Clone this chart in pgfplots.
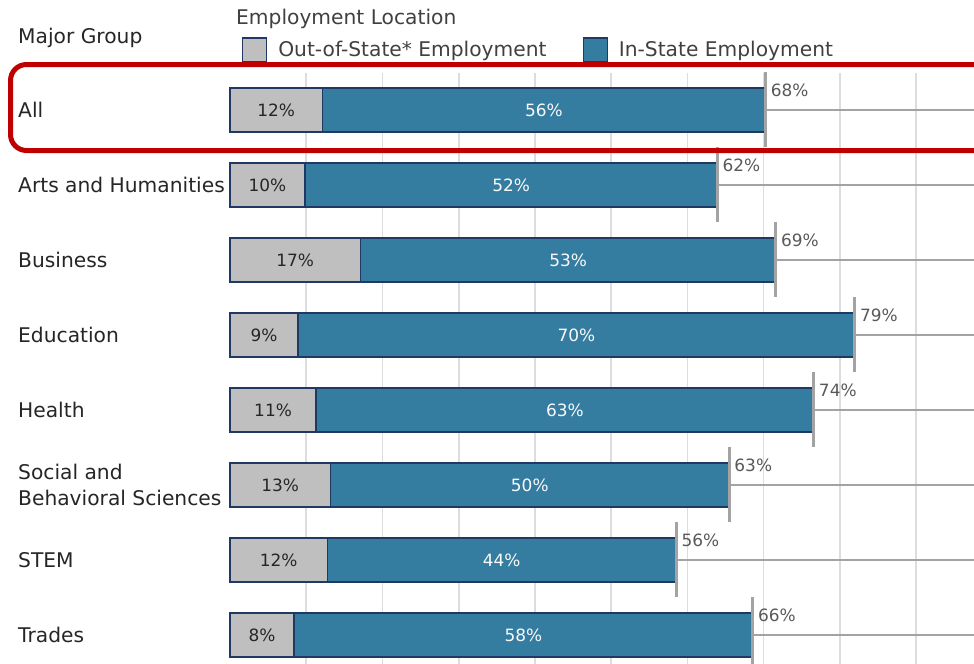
\documentclass[border=0pt]{standalone}
\usepackage{pgfplots}
\pgfplotsset{compat=1.18}
\usepackage{pgfplotstable}
\usepackage{fontspec}
\setmainfont{DejaVu Sans}
\definecolor{oosgray}{HTML}{BFBFBF}
\definecolor{instblue}{HTML}{347DA1}
\definecolor{navy}{HTML}{1F3864}
\definecolor{gridgray}{HTML}{DDDDDD}
\definecolor{totgray}{HTML}{A3A3A3}
\definecolor{labtext}{HTML}{262626}
\definecolor{legtext}{HTML}{404040}
\definecolor{tottext}{HTML}{595959}
\definecolor{hired}{HTML}{C00000}

\pgfplotstableread{
row out in total outlab inlab totlab
0 11.7 56.1 67.8 12 56 68
1 9.5 52.2 61.7 10 52 62
2 16.5 52.6 69.1 17 53 69
3 8.6 70.5 79.1 9 70 79
4 10.9 63.0 73.9 11 63 74
5 12.7 50.5 63.2 13 50 63
6 12.3 44.2 56.5 12 44 56
7 8.1 58.1 66.2 8 58 66
}\datatable

\begin{document}
\begin{tikzpicture}
\useasboundingbox (0,0) rectangle (974bp,-664bp);
\begin{axis}[
  at={(230bp,-73bp)}, anchor=north west,
  scale only axis, width=744bp, height=591bp,
  xmin=0, xmax=94.18, ymin=-0.493, ymax=7.387,
  y dir=reverse,
  axis line style={draw=none},
  tick style={draw=none},
  major tick length=0pt,
  xtick={9.65,19.3,28.95,38.6,48.25,57.9,67.55,77.2,86.85},
  xticklabels={},
  xmajorgrids=true,
  grid style={draw=gridgray, line width=1.6bp},
  ytick={0,...,7},
  yticklabels={All,Arts and Humanities,Business,Education,Health,{Social and\\Behavioral Sciences},STEM,Trades},
  yticklabel style={anchor=west, align=left, xshift=-212bp, inner sep=0pt,
    font=\fontsize{20.3}{26}\selectfont, text=labtext},
  clip=false,
  legend columns=2,
  legend cell align=left,
  legend style={at={(axis description cs:0,1)}, anchor=west, xshift=12bp, yshift=23bp,
    draw=none, fill=none, inner sep=0pt, outer sep=0pt,
    font=\fontsize{20.3}{24}\selectfont, text=legtext,
    nodes={inner sep=0pt},
    /tikz/every odd column/.append style={column sep=11bp},
    /tikz/every even column/.append style={column sep=36bp}},
]
% in-state bars (drawn from 0 to total), out-of-state bars over them
\addplot[forget plot, xbar, bar width=44bp, fill=instblue, draw=navy, line width=1.3bp]
  table[x=total, y=row]{\datatable};
\addplot[forget plot, xbar, bar width=44bp, fill=oosgray, draw=navy, line width=1.3bp]
  table[x=out, y=row]{\datatable};
% total lines
\addplot[forget plot, draw=none, mark=none,
  error bars/.cd, x dir=plus, x explicit, error mark=none,
  error bar style={draw=totgray, line width=2.5bp}]
  table[x=total, y=row, x error expr=94.18-\thisrow{total}]{\datatable};
\addplot[forget plot, draw=none, mark=none,
  error bars/.cd, y dir=both, y fixed=0.5, error mark=none,
  error bar style={draw=totgray, line width=3bp}]
  table[x=total, y=row]{\datatable};
% labels
\addplot[forget plot, draw=none, mark=none,
  nodes near coords={\pgfplotspointmeta\%}, point meta=explicit symbolic,
  every node near coord/.append style={anchor=center, inner sep=0pt,
    font=\fontsize{17}{20}\selectfont, text=labtext}]
  table[x expr=\thisrow{out}/2, y=row, meta=outlab]{\datatable};
\addplot[forget plot, draw=none, mark=none,
  nodes near coords={\pgfplotspointmeta\%}, point meta=explicit symbolic,
  every node near coord/.append style={anchor=center, inner sep=0pt,
    font=\fontsize{17}{20}\selectfont, text=white!95!gray}]
  table[x expr=\thisrow{out}+\thisrow{in}/2, y=row, meta=inlab]{\datatable};
\addplot[forget plot, draw=none, mark=none,
  nodes near coords={\pgfplotspointmeta\%}, point meta=explicit symbolic,
  every node near coord/.append style={anchor=base west, inner sep=0pt,
    xshift=5bp, yshift=13.5bp,
    font=\fontsize{17}{20}\selectfont, text=tottext}]
  table[x=total, y=row, meta=totlab]{\datatable};
% legend
\addlegendimage{legend image code/.code={\draw[fill=oosgray, draw=navy, line width=1.3bp] (0bp,-12bp) rectangle (24bp,12bp);}}
\addlegendentry{Out-of-State* Employment}
\addlegendimage{legend image code/.code={\draw[fill=instblue, draw=navy, line width=1.3bp] (0bp,-12bp) rectangle (24bp,12bp);}}
\addlegendentry{In-State Employment}
\end{axis}
\node[anchor=base west, inner sep=0pt, font=\fontsize{20.3}{24}\selectfont, text=legtext] at (236bp,-24bp) {Employment Location};
\node[anchor=base west, inner sep=0pt, font=\fontsize{20.3}{24}\selectfont, text=labtext] at (18bp,-43bp) {Major Group};
\draw[hired, line width=5bp, rounded corners=16bp] (10.5bp,-64.5bp) rectangle (1010bp,-150.5bp);
\end{tikzpicture}
\end{document}
